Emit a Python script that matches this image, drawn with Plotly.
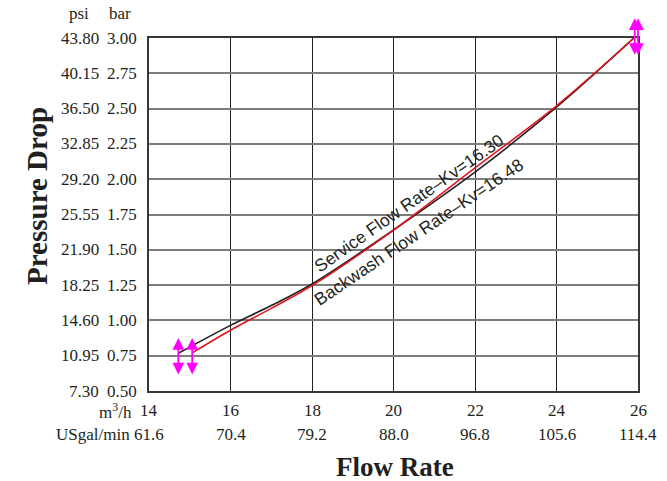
import plotly.graph_objects as go

# ---- data ----
BAR_TICKS = [0.50, 0.75, 1.00, 1.25, 1.50, 1.75, 2.00, 2.25, 2.50, 2.75, 3.00]
PSI_LABELS = ["7.30", "10.95", "14.60", "18.25", "21.90", "25.55",
              "29.20", "32.85", "36.50", "40.15", "43.80"]
M3H_TICKS = [14, 16, 18, 20, 22, 24, 26]
GPM_LABELS = ["61.6", "70.4", "79.2", "88.0", "96.8", "105.6", "114.4"]

service_q = [14.72, 16.0, 17.0, 18.0, 20.0, 22.0, 24.0, 25.9]
service_dp = [0.767, 0.965, 1.105, 1.258, 1.64, 2.05, 2.51, 3.00]
backwash_q = [15.06, 16.0, 17.0, 18.0, 20.0, 22.0, 24.0, 25.9]
backwash_dp = [0.77, 0.93, 1.085, 1.246, 1.64, 2.08, 2.52, 3.00]

# magenta double arrows marking the ends of the curves
arrow_x = [14.72, 15.06, 25.92, 26.0]
arrow_lo = [0.606, 0.606, 2.87, 2.87]
arrow_hi = [0.875, 0.875, 3.14, 3.14]

SERIF = "Liberation Serif"
SANS = "Liberation Sans"
INK = "#231f20"
TICK = 17

# plot area in pixels (667 x 481 page)
L, R, T, B = 149, 638, 38, 391


def px(x):
    return (x - L) / (R - L)


def py(y):
    return (B - y) / (B - T)


def label(x, y, text, size=TICK, family=SERIF, xanchor="center", **kw):
    d = dict(x=x, y=y, text=text, showarrow=False, xanchor=xanchor,
             yanchor="middle", font=dict(family=family, size=size, color=INK))
    d.update(kw)
    return d


fig = go.Figure()
fig.add_trace(go.Scatter(x=service_q, y=service_dp, mode="lines",
                         line=dict(color=INK, width=1.6, shape="spline"),
                         showlegend=False))
fig.add_trace(go.Scatter(x=backwash_q, y=backwash_dp, mode="lines",
                         line=dict(color="#e3141c", width=1.6, shape="spline"),
                         showlegend=False))

ann = []
# left tick columns
for b, p in zip(BAR_TICKS, PSI_LABELS):
    ann.append(label(px(101), b, p, xanchor="right", xref="paper", yref="y"))
    ann.append(label(px(139), b, f"{b:.2f}", xanchor="right",
                     xref="paper", yref="y"))
ann.append(label(px(79), py(14), "psi", xref="paper", yref="paper"))
ann.append(label(px(120), py(14), "bar", xref="paper", yref="paper"))

# bottom tick rows
for q, g in zip(M3H_TICKS, GPM_LABELS):
    ann.append(label(q, py(410), str(q), xref="x", yref="paper"))
    ann.append(label(q, py(434), g, xref="x", yref="paper"))
ann.append(label(px(134), py(411), "m<sup>3</sup>/h", xanchor="right",
                 xref="paper", yref="paper"))
ann.append(label(px(132), py(434), "USgal/min", xanchor="right",
                 xref="paper", yref="paper"))

# axis titles
ann.append(label(px(395), py(467), "<b>Flow Rate</b>", size=27,
                 xref="paper", yref="paper"))
ann.append(label(px(37), py(196), "<b>Pressure Drop</b>", size=29,
                 xref="paper", yref="paper", textangle=-90))
ann.append(label(px(40), py(490), "Pressure  Table", size=20, xanchor="left",
                 xref="paper", yref="paper"))

# curve labels
ann.append(label(20.39, 1.83, "Service Flow Rate\u2013Kv=16.30", size=17.5,
                 family=SANS, textangle=-35))
ann.append(label(20.62, 1.626, "Backwash Flow Rate\u2013Kv=16.48", size=17.5,
                 family=SANS, textangle=-34))

# magenta arrows
for ax_, lo, hi in zip(arrow_x, arrow_lo, arrow_hi):
    ann.append(dict(x=ax_, y=hi, ax=ax_, ay=lo, xref="x", yref="y",
                    axref="x", ayref="y", text="", showarrow=True,
                    arrowhead=2, arrowside="end+start", arrowsize=1.3,
                    arrowwidth=1.8, arrowcolor="#ff00ff"))

fig.update_layout(
    width=667, height=481,
    margin=dict(l=L, r=667 - R, t=T, b=481 - B),
    paper_bgcolor="white", plot_bgcolor="white",
    annotations=ann,
    xaxis=dict(range=[14, 26], tickvals=M3H_TICKS, showticklabels=False,
               showgrid=True, gridcolor=INK, gridwidth=1.2, zeroline=False,
               showline=True, linecolor="#3b3536", linewidth=2, mirror=True,
               ticks=""),
    yaxis=dict(range=[0.5, 3.0], tickvals=BAR_TICKS, showticklabels=False,
               showgrid=True, gridcolor="#7d7d7d", gridwidth=1.6, zeroline=False,
               showline=True, linecolor="#3b3536", linewidth=2, mirror=True,
               ticks=""),
)

# drop the browser's default body margin so the figure sits at the page corner
fig.write_html("out.html", config={"displayModeBar": False},
               post_script="document.body.style.margin='0';"
                           "document.body.style.overflow='hidden';")
